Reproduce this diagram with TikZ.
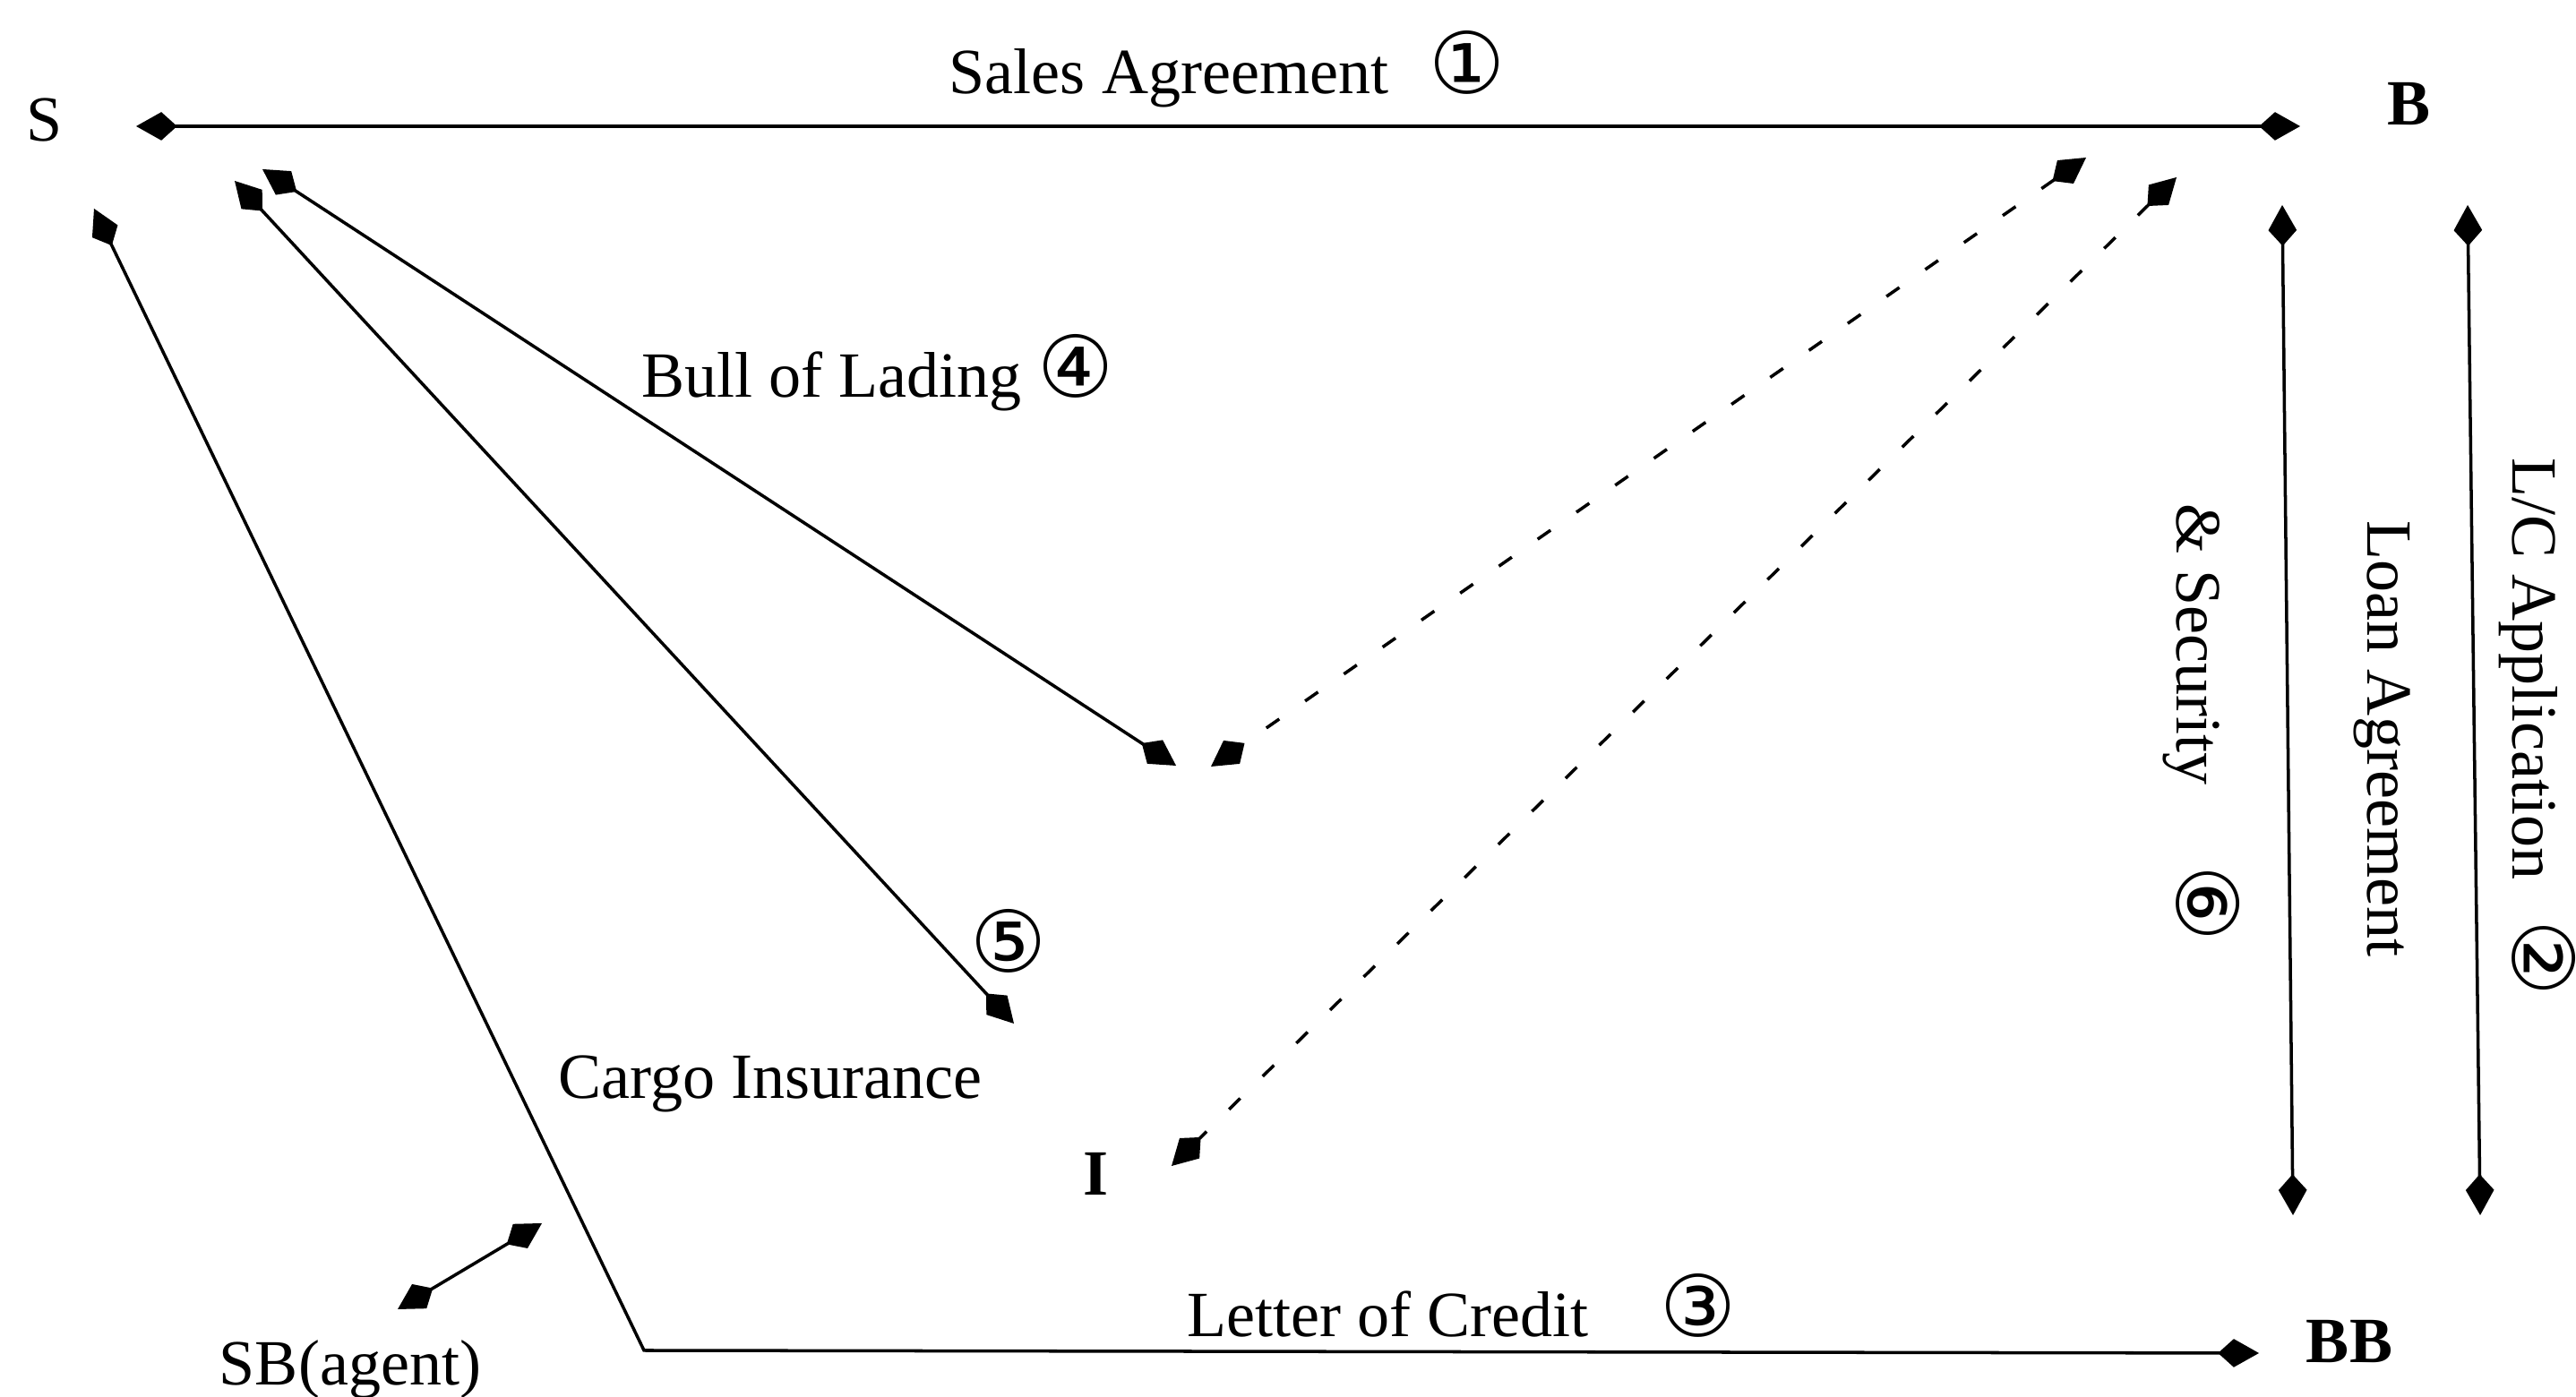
\documentclass[tikz,border=0pt]{standalone}
\usepackage{fontspec}
\setmainfont{Liberation Serif}
\newfontfamily\circfont{DejaVu Sans}
\usepackage{tikz}
\usetikzlibrary{arrows.meta}
\newcommand{\cnum}[1]{{\circfont\fontsize{27}{27}\selectfont #1}}

\begin{document}
\begin{tikzpicture}[
  every node/.style={font=\fontsize{20.5}{24}\selectfont,inner sep=1pt},
  kk/.style={line width=1pt,{Kite[length=13pt,width=9pt,inset=5pt]}-{Kite[length=13pt,width=9pt,inset=5pt]}},
  dd/.style={kk,dash pattern=on 5pt off 10pt}]
\useasboundingbox (0,0) rectangle (28.76,15.6);
% parties
\node (S) at (0.50,14.26) {S};
\node[font=\fontsize{20.5}{24}\selectfont\bfseries] (B) at (26.89,14.44) {B};
\node[font=\fontsize{20.5}{24}\selectfont\bfseries] (BB) at (26.23,0.62) {BB};
\node[font=\fontsize{20.5}{24}\selectfont\bfseries] (I) at (12.23,2.49) {I};
\node (SB) at (3.91,0.31) {SB(agent)};
% end points
\coordinate (sa) at (1.52,14.19);
\coordinate (sb) at (25.68,14.19);
\coordinate (l1) at (2.93,13.71);
\coordinate (l2) at (13.13,7.05);
\coordinate (c1) at (2.62,13.58);
\coordinate (c2) at (11.32,4.17);
\coordinate (k1) at (1.05,13.27);
\coordinate (k2) at (7.19,0.52);
\coordinate (k3) at (25.22,0.49);
\coordinate (g1) at (4.44,0.98);
\coordinate (g2) at (6.05,1.94);
\coordinate (d1) at (23.29,13.84);
\coordinate (d2) at (13.52,7.04);
\coordinate (e1) at (24.30,13.62);
\coordinate (e2) at (13.08,2.58);
\coordinate (v1) at (25.48,13.31);
\coordinate (v2) at (25.60,2.03);
\coordinate (w1) at (27.55,13.31);
\coordinate (w2) at (27.69,2.03);
% connectors
\draw[kk](sa)--(sb);
\draw[kk](l1)--(l2);
\draw[kk](c1)--(c2);
\draw[kk](k1)--(k2)--(k3);
\draw[kk](g1)--(g2);
\draw[dd](d1)--(d2);
\draw[dd](e1)--(e2);
\draw[kk](v1)--(v2);
\draw[kk](w1)--(w2);
% labels
\node (sales) at (13.70,14.83) {Sales Agreement\hspace{0.45cm}\cnum{①}};
\node (bill) at (9.80,11.44) {Bull of Lading \cnum{④}};
\node (five) at (11.26,5.09) {\cnum{⑤}};
\node (cargo) at (8.60,3.50) {Cargo Insurance};
\node (loc) at (16.32,1.02) {Letter of Credit\hspace{0.8cm}\cnum{③}};
\node[rotate=-90] (sec) at (24.58,7.53) {\&~Security\hspace{0.9cm}\cnum{⑥}};
\node[rotate=-90] (loan) at (26.59,7.35) {Loan Agreement};
\node[rotate=-90] (lca) at (28.33,7.48) {L/C Application\hspace{0.45cm}\cnum{②}};
\end{tikzpicture}
\end{document}
